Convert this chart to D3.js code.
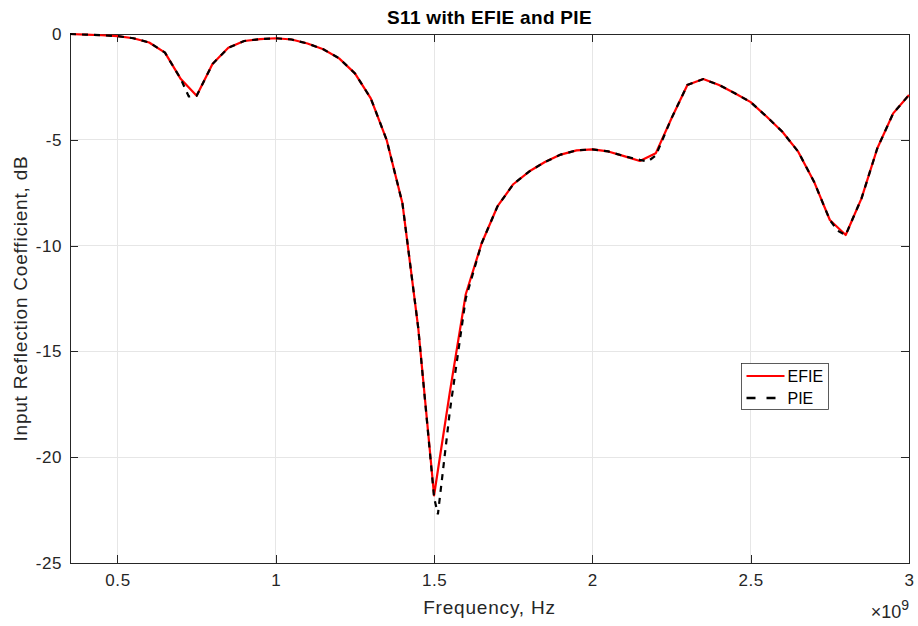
<!DOCTYPE html>
<html>
<head>
<meta charset="utf-8">
<script src="https://cdn.jsdelivr.net/npm/d3@7"></script>
<style>
  html, body { margin: 0; padding: 0; background: #fff; }
  svg { display: block; font-family: "Liberation Sans", Arial, Helvetica, sans-serif; }
</style>
</head>
<body>
<svg id="chart" width="918" height="626"></svg>
<script>
// ---- data (frequency in units of 1e9 Hz) ----
const efieFreq = [0.35,0.40,0.45,0.50,0.55,0.60,0.65,0.70,0.75,0.80,0.85,0.90,0.95,1.00,1.05,1.10,1.15,1.20,1.25,1.30,1.35,1.40,1.45,1.50,1.55,1.60,1.65,1.70,1.75,1.80,1.85,1.90,1.95,2.00,2.05,2.10,2.15,2.20,2.25,2.30,2.35,2.40,2.45,2.50,2.55,2.60,2.65,2.70,2.75,2.80,2.85,2.90,2.95,3.00];
const efieS11 = [0,-0.03,-0.06,-0.1,-0.2,-0.4,-0.88,-2.13,-2.92,-1.42,-0.65,-0.33,-0.24,-0.2,-0.26,-0.45,-0.72,-1.15,-1.86,-3.04,-5.0,-8.0,-13.9,-21.8,-16.9,-12.3,-9.9,-8.15,-7.1,-6.5,-6.05,-5.7,-5.5,-5.45,-5.55,-5.77,-6.0,-5.64,-3.98,-2.41,-2.13,-2.41,-2.8,-3.22,-3.9,-4.62,-5.56,-6.98,-8.79,-9.5,-7.77,-5.4,-3.75,-2.88];

const pieFreq = [0.35,0.40,0.45,0.50,0.55,0.60,0.65,0.70,0.725,0.75,0.80,0.85,0.90,0.95,1.00,1.05,1.10,1.15,1.20,1.25,1.30,1.35,1.40,1.45,1.50,1.512,1.55,1.60,1.65,1.70,1.75,1.80,1.85,1.90,1.95,2.00,2.05,2.10,2.15,2.175,2.20,2.25,2.30,2.35,2.40,2.45,2.50,2.55,2.60,2.65,2.70,2.75,2.775,2.80,2.85,2.90,2.95,3.00];
const pieS11 = [0,-0.03,-0.06,-0.1,-0.2,-0.4,-0.88,-2.13,-2.95,-2.92,-1.42,-0.65,-0.33,-0.24,-0.2,-0.26,-0.45,-0.72,-1.15,-1.86,-3.04,-5.0,-8.0,-13.9,-21.9,-22.7,-17.8,-12.5,-9.9,-8.15,-7.1,-6.5,-6.05,-5.7,-5.5,-5.45,-5.55,-5.77,-5.95,-6.02,-5.75,-3.98,-2.41,-2.13,-2.41,-2.8,-3.22,-3.9,-4.62,-5.56,-6.98,-8.79,-9.3,-9.5,-7.77,-5.4,-3.75,-2.88];

const xTicks = [0.5,1,1.5,2,2.5,3];
const xTickLabels = ["0.5","1","1.5","2","2.5","3"];
const yTicks = [0,-5,-10,-15,-20,-25];
const yTickLabels = ["0","-5","-10","-15","-20","-25"];
const seriesNames = ["EFIE","PIE"];
const titleText = "S11 with EFIE and PIE";
const xLabelText = "Frequency, Hz";
const yLabelText = "Input Reflection Coefficient, dB";

// ---- layout ----
const L = 70, R = 909, T = 34, B = 563;
const axisColor = "#262626";
const svg = d3.select("#chart");

const x = d3.scaleLinear().domain([0.35, 3]).range([L, R]);
const y = d3.scaleLinear().domain([-25, 0]).range([B, T]);

// grid
const grid = svg.append("g");
grid.selectAll("line.gx").data(xTicks).join("line")
  .attr("x1", d => x(d)).attr("x2", d => x(d)).attr("y1", T).attr("y2", B)
  .attr("stroke", "#e6e6e6").attr("stroke-width", 1).attr("shape-rendering","crispEdges");
grid.selectAll("line.gy").data(yTicks).join("line")
  .attr("y1", d => y(d)).attr("y2", d => y(d)).attr("x1", L).attr("x2", R)
  .attr("stroke", "#e6e6e6").attr("stroke-width", 1).attr("shape-rendering","crispEdges");

// axes with inward ticks
const tickLen = 8;
const fontTick = 17;
const xAxisB = svg.append("g").attr("transform", `translate(0,${B})`)
  .call(d3.axisBottom(x).tickValues(xTicks).tickFormat((d,i) => xTickLabels[i]).tickSizeInner(-tickLen).tickSizeOuter(0).tickPadding(11));
const xAxisT = svg.append("g").attr("transform", `translate(0,${T})`)
  .call(d3.axisTop(x).tickValues(xTicks).tickFormat("").tickSizeInner(-tickLen).tickSizeOuter(0));
const yAxisL = svg.append("g").attr("transform", `translate(${L},0)`)
  .call(d3.axisLeft(y).tickValues(yTicks).tickFormat((d,i) => yTickLabels[i]).tickSizeInner(-tickLen).tickSizeOuter(0).tickPadding(8));
const yAxisR = svg.append("g").attr("transform", `translate(${R},0)`)
  .call(d3.axisRight(y).tickValues(yTicks).tickFormat("").tickSizeInner(-tickLen).tickSizeOuter(0));

[xAxisB, xAxisT, yAxisL, yAxisR].forEach(g => {
  g.selectAll("path.domain").attr("stroke", axisColor).attr("stroke-width", 1).attr("shape-rendering","crispEdges");
  g.selectAll(".tick line").attr("stroke", axisColor).attr("shape-rendering","crispEdges");
  g.selectAll(".tick text").attr("fill", axisColor).attr("font-size", fontTick)
    .attr("letter-spacing", "0.6px")
    .attr("font-family", "'Liberation Sans', Arial, sans-serif");
});

// lines
const line = d3.line().x(d => x(d[0])).y(d => y(d[1]));
const efieData = efieFreq.map((f,i) => [f, efieS11[i]]);
const pieData = pieFreq.map((f,i) => [f, pieS11[i]]);

const plot = svg.append("g");
plot.append("path").datum(efieData).attr("d", line)
  .attr("fill","none").attr("stroke","#ff0000").attr("stroke-width",2.2).attr("stroke-linejoin","round");
plot.append("path").datum(pieData).attr("d", line)
  .attr("fill","none").attr("stroke","#000000").attr("stroke-width",2.2).attr("stroke-dasharray","6,6");

// title
svg.append("text").attr("x", (L+R)/2).attr("y", 24).attr("text-anchor","middle")
  .attr("font-size", 19).attr("font-weight","bold").attr("fill","#000").attr("letter-spacing","0.3px").text(titleText);

// axis labels
svg.append("text").attr("x", (L+R)/2).attr("y", 614).attr("text-anchor","middle")
  .attr("font-size", 19).attr("letter-spacing","0.8px").attr("fill", axisColor).text(xLabelText);
svg.append("text").attr("transform", `translate(27,${(T+B)/2}) rotate(-90)`).attr("text-anchor","middle")
  .attr("font-size", 19).attr("letter-spacing","0.8px").attr("fill", axisColor).text(yLabelText);

// exponent
const ex = svg.append("text").attr("x", R).attr("y", 618).attr("text-anchor","end")
  .attr("font-size", 18).attr("fill", axisColor);
ex.append("tspan").text("\u00d710");
ex.append("tspan").attr("dy", -8).attr("font-size", 14).text("9");

// legend
const lg = svg.append("g").attr("transform","translate(741.5,363.5)");
lg.append("rect").attr("width", 87).attr("height", 46).attr("fill","#fff").attr("stroke","#262626").attr("stroke-width",0.75);
lg.append("line").attr("x1",5).attr("x2",43).attr("y1",12.5).attr("y2",12.5).attr("stroke","#ff0000").attr("stroke-width",2);
lg.append("line").attr("x1",5).attr("x2",43).attr("y1",34.5).attr("y2",34.5).attr("stroke","#000").attr("stroke-width",2.5).attr("stroke-dasharray","9,11");
lg.selectAll("text").data(seriesNames).join("text")
  .attr("x", 46).attr("y", (d,i) => 18.5 + i*22).attr("font-size", 16).attr("fill","#000").text(d => d);
</script>
</body>
</html>
